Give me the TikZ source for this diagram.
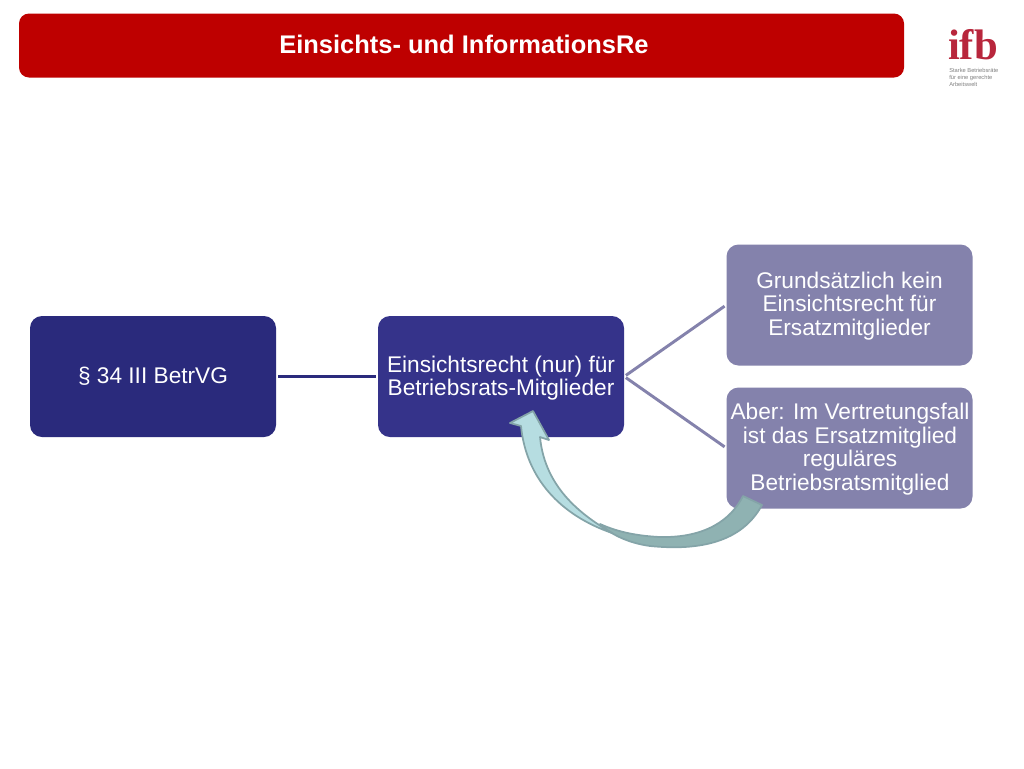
\documentclass[tikz,border=0pt]{standalone}
\usepackage{fontspec}
\setmainfont{Liberation Sans}
\newfontfamily\logofont{Liberation Serif}
\definecolor{titlered}{HTML}{BE0000}
\definecolor{darkblue}{HTML}{2A2A7C}
\definecolor{midblue}{HTML}{35338A}
\definecolor{lightblue}{HTML}{8482AC}
\definecolor{arrowlight}{HTML}{B6DDE1}
\definecolor{arrowdark}{HTML}{8FB2B2}
\definecolor{arrowedge}{HTML}{84A4A8}
\definecolor{logored}{HTML}{B8263C}
\tikzset{
 titlebox/.style={fill=titlered,rounded corners=7.5pt,minimum width=885*0.75pt,minimum height=64*0.75pt,inner sep=0pt},
 flowbox/.style={rounded corners=9pt,minimum width=246*0.75pt,minimum height=121*0.75pt,inner sep=0pt,text=white,align=center,font=\fontsize{17}{17.7}\selectfont},
 link/.style={line width=2.2pt,shorten <=1.5pt,shorten >=1.5pt},
}
\begin{document}
\begin{tikzpicture}[x=0.75pt,y=-0.75pt]
\useasboundingbox (0,0) rectangle (1024,768);
\fill[white] (0,0) rectangle (1024,768);
\node[titlebox] (title) at (461.5,45.5) {};
\node[text=white,font=\bfseries\fontsize{19.1}{22}\selectfont] (titletext) at (464,44) {Einsichts- und InformationsRe};
\node[flowbox,fill=darkblue] (a) at (153,376.5) {§ 34 III BetrVG};
\node[flowbox,fill=midblue] (b) at (501,376.5) {};
\node[text=white,align=center,font=\fontsize{17}{17.7}\selectfont,inner sep=0pt] (btext) at (501,378) {Einsichtsrecht (nur) für\\Betriebsrats-Mitglieder};
\node[flowbox,fill=lightblue] (c) at (849.5,305) {};
\node[text=white,align=center,font=\fontsize{17}{17.7}\selectfont,inner sep=0pt] (ctext) at (849.5,306) {Grundsätzlich kein\\Einsichtsrecht für\\Ersatzmitglieder};
\node[flowbox,fill=lightblue] (d) at (849.5,448) {};
\node[text=white,align=center,font=\fontsize{17}{17.7}\selectfont,inner sep=0pt] (dtext) at (850,449) {Aber: Im Vertretungsfall\\ist das Ersatzmitglied\\reguläres\\Betriebsratsmitglied};
\draw[link,color=darkblue] (a.east) -- (b.west);
\coordinate (fork) at (b.east);
\draw[link,color=lightblue] (fork) -- (c.west);
\draw[link,color=lightblue] (fork) -- (d.west);
% curved arrow
\draw[fill=arrowdark,draw=arrowedge,line width=1.3pt,line join=round]
 (743,496) .. controls (731,520) and (705,538) .. (660,537)
 .. controls (640,536) and (620,533) .. (600,524)
 .. controls (610,534) and (628,543) .. (650,546)
 .. controls (700,551) and (742,542) .. (762,505) -- cycle;
\draw[fill=arrowlight,draw=arrowedge,line width=1.3pt,line join=round]
 (533,411) -- (510,423) -- (521,426)
 .. controls (526,478) and (560,515) .. (612,533)
 .. controls (585,517) and (545,490) .. (540,437)
 -- (549,440) -- cycle;
% logo
\node[text=logored,font=\logofont\bfseries\fontsize{32}{32}\selectfont,inner sep=0pt,text height=20pt,text depth=0pt,anchor=base] (logo) at (973,59) {ifb};
\node[text=gray,font=\fontsize{4.3}{5.25}\selectfont,align=left,anchor=north west,inner sep=0pt] (claim) at (949,68) {Starke Betriebsräte\\für eine gerechte\\Arbeitswelt};
\end{tikzpicture}
\end{document}
